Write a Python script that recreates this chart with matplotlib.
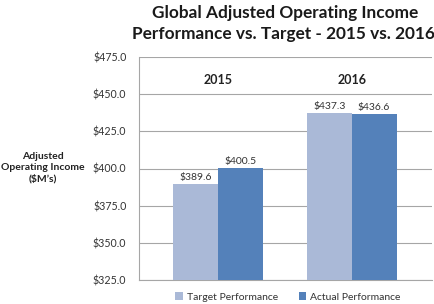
import numpy as np
from matplotlib import pyplot as plt

years = ['2015', '2016']
target = [389.6, 437.3]
actual = [400.5, 436.6]
yticks = [325, 350, 375, 400, 425, 450, 475]

plt.rcParams['font.family'] = ['Lato', 'DejaVu Sans']

fig = plt.figure(figsize=(4.35, 3.04), dpi=100)
ax = fig.add_axes([139 / 435, 1 - 280 / 304, 293 / 435, 223 / 304])

x = np.arange(len(years))
w = 0.336
b1 = ax.bar(x - w / 2, target, w, color='#AAB9D7', label='Target Performance', zorder=3)
b2 = ax.bar(x + w / 2, actual, w, color='#5481BA', label='Actual Performance', zorder=3)

for bars, vals in ((b1, target), (b2, actual)):
    for r, v in zip(bars, vals):
        ax.text(r.get_x() + r.get_width() / 2, v + 1.5, f'${v:.1f}', ha='center', va='bottom',
                fontsize=7.5, color='#333333')

for i, y in enumerate(years):
    ax.text(i, 459.5, y, ha='center', va='center', fontsize=9, fontweight='bold', color='#222222')

ax.set_ylim(325, 475)
ax.set_xlim(-0.59, 1.6)
ax.set_yticks(yticks)
ax.set_yticklabels([f'${t:.1f}' for t in yticks], fontsize=7.7, color='#333333')
ax.set_xticks([])
ax.tick_params(axis='y', length=0, pad=9)
ax.grid(axis='y', color='#A6A6A6', linewidth=0.8, zorder=0)
for s in ['top', 'right']:
    ax.spines[s].set_visible(False)
ax.spines['left'].set_color('#A6A6A6')
ax.spines['bottom'].set_color('#A6A6A6')
ax.spines['left'].set_linewidth(0.8)
ax.spines['bottom'].set_linewidth(0.8)

fig.text(285 / 435, 1 - 13 / 304, 'Global Adjusted Operating Income', ha='center', va='center',
         fontsize=12.4, fontweight='bold', color='#1a1a1a')
fig.text(284 / 435, 1 - 34 / 304, 'Performance vs. Target - 2015 vs. 2016', ha='center', va='center',
         fontsize=12.4, fontweight='bold', color='#1a1a1a')
fig.text(43 / 435, 1 - 168 / 304, "Adjusted\nOperating Income\n($M\u2019s)", ha='center', va='center',
         fontsize=7.5, fontweight='bold', color='#222222', linespacing=1.3)

leg = fig.legend(handles=[b1, b2], loc='center', bbox_to_anchor=(288 / 435, 1 - 297 / 304), ncol=2,
                 frameon=False, fontsize=7.5, handlelength=0.7, handleheight=0.7, columnspacing=2.0,
                 handletextpad=0.4)
for t in leg.get_texts():
    t.set_color('#333333')

fig.savefig('out.png', dpi=100)
